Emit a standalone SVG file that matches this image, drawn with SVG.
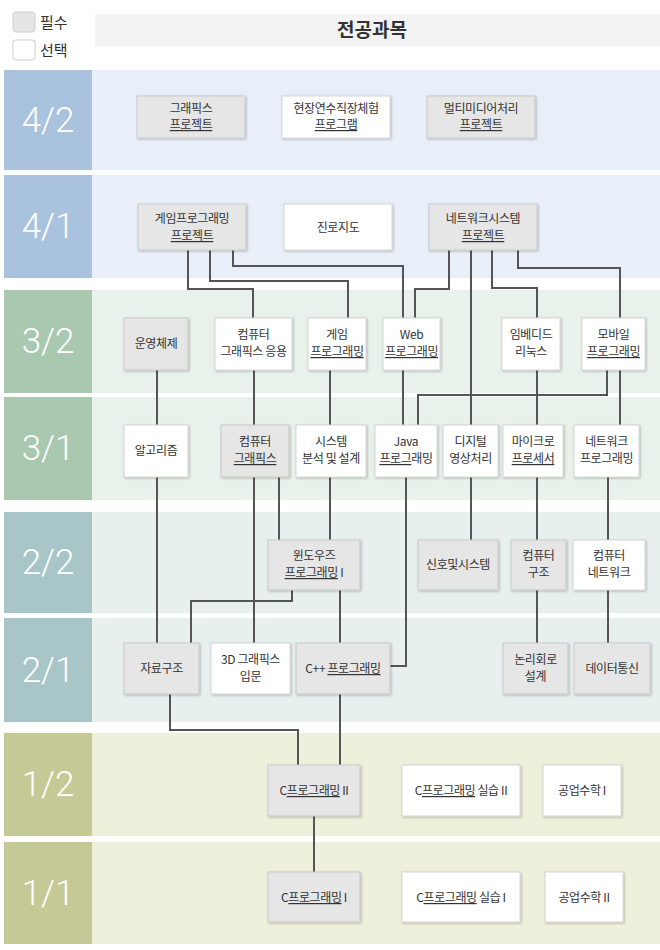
<svg xmlns="http://www.w3.org/2000/svg" width="660" height="950" viewBox="0 0 660 950">
<defs>
<filter id="sh" x="-10%" y="-10%" width="130%" height="140%"><feDropShadow dx="1" dy="1" stdDeviation="1" flood-color="#000" flood-opacity="0.25"/></filter>
</defs>
<style>
text{font-family:"Noto Sans CJK KR","Noto Sans",sans-serif;fill:#333;}
.t{font-size:12px;text-anchor:middle;letter-spacing:-0.4px;}
.u{text-decoration:underline;}
.lab{font-family:Roboto,"Liberation Sans",sans-serif;font-weight:300;font-size:35px;fill:#fff;text-anchor:middle;}
.req{fill:#e6e6e6;stroke:#c9c9c9;stroke-width:1;filter:url(#sh);}
.opt{fill:#fff;stroke:#d6d6d6;stroke-width:1;filter:url(#sh);}
.c{fill:none;stroke:#555;stroke-width:2;}
</style>
<rect width="660" height="950" fill="#fff"/>
<g id="legend">
<rect x="13" y="12" width="22" height="20" rx="3" fill="#e4e4e4" stroke="#cfcfcf"/>
<text x="40" y="28" font-size="15">필수</text>
<rect x="13" y="40" width="22" height="20" rx="3" fill="#fff" stroke="#cfcfcf"/>
<text x="40" y="56" font-size="15">선택</text>
</g>
<g id="header">
<rect x="95" y="14" width="565" height="32" fill="#f3f3f3"/>
<text x="372" y="37" font-size="19" font-weight="bold" text-anchor="middle" fill="#222">전공과목</text>
</g>
<g id="rows">
<rect x="92" y="70" width="568" height="100" fill="#e9eff8"/><rect x="4" y="70" width="88" height="100" fill="#a9c2de"/><text class="lab" x="48" y="132">4/2</text>
<rect x="92" y="175" width="568" height="103" fill="#e9eff8"/><rect x="4" y="175" width="88" height="103" fill="#a9c2de"/><text class="lab" x="48" y="238">4/1</text>
<rect x="92" y="290" width="568" height="103" fill="#e8f1ea"/><rect x="4" y="290" width="88" height="103" fill="#a8c8af"/><text class="lab" x="48" y="353">3/2</text>
<rect x="92" y="397" width="568" height="103" fill="#e8f1ea"/><rect x="4" y="397" width="88" height="103" fill="#a8c8af"/><text class="lab" x="48" y="460">3/1</text>
<rect x="92" y="512" width="568" height="101" fill="#e7f0ef"/><rect x="4" y="512" width="88" height="101" fill="#a8c6c7"/><text class="lab" x="48" y="574">2/2</text>
<rect x="92" y="618" width="568" height="104" fill="#e7f0ef"/><rect x="4" y="618" width="88" height="104" fill="#a8c6c7"/><text class="lab" x="48" y="682">2/1</text>
<rect x="92" y="733" width="568" height="103" fill="#eef0dc"/><rect x="4" y="733" width="88" height="103" fill="#c5c995"/><text class="lab" x="48" y="796">1/2</text>
<rect x="92" y="842" width="568" height="102" fill="#eef0dc"/><rect x="4" y="842" width="88" height="102" fill="#c5c995"/><text class="lab" x="48" y="905">1/1</text>
</g>
<g id="connectors">
<path class="c" d="M188 250V289H253V318"/>
<path class="c" d="M210 250V281H348V318"/>
<path class="c" d="M233 250V266H403V318"/>
<path class="c" d="M449 250V289H415V318"/>
<path class="c" d="M471 250V425"/>
<path class="c" d="M492 250V288H537V318"/>
<path class="c" d="M518 250V268H620V318"/>
<path class="c" d="M157 370V425M157 477V643"/>
<path class="c" d="M254 370V425M254 477V643"/>
<path class="c" d="M279 477V540"/>
<path class="c" d="M330 370V425M330 477V540"/>
<path class="c" d="M403 370V425"/>
<path class="c" d="M607 370V395H418V425"/>
<path class="c" d="M620 370V425"/>
<path class="c" d="M537 370V425M537 477V540M537 590V643"/>
<path class="c" d="M471 477V540"/>
<path class="c" d="M608 477V540M608 590V643"/>
<path class="c" d="M406 477V666H390"/>
<path class="c" d="M292 590V601H191V643"/>
<path class="c" d="M340 590V643"/>
<path class="c" d="M170 694V730H298V765"/>
<path class="c" d="M340 694V765"/>
<path class="c" d="M314 816V872"/>
</g>
<g id="n-graphics-project"><rect class="req" x="137" y="96" width="108" height="42"/><text class="t" x="191" y="113">그래픽스</text><text class="t" x="191" y="129"><tspan class="u">프로젝트</tspan></text></g>
<g id="n-internship"><rect class="opt" x="282" y="96" width="108" height="42"/><text class="t" x="336" y="113">현장연수직장체험</text><text class="t" x="336" y="129"><tspan class="u">프로그램</tspan></text></g>
<g id="n-multimedia-project"><rect class="req" x="427" y="96" width="108" height="42"/><text class="t" x="481" y="113">멀티미디어처리</text><text class="t" x="481" y="129"><tspan class="u">프로젝트</tspan></text></g>
<g id="n-game-project"><rect class="req" x="138" y="204" width="108" height="46"/><text class="t" x="192" y="223">게임프로그래밍</text><text class="t" x="192" y="240"><tspan class="u">프로젝트</tspan></text></g>
<g id="n-career"><rect class="opt" x="284" y="204" width="108" height="46"/><text class="t" x="338" y="232">진로지도</text></g>
<g id="n-network-project"><rect class="req" x="429" y="204" width="108" height="46"/><text class="t" x="483" y="223">네트워크시스템</text><text class="t" x="483" y="240"><tspan class="u">프로젝트</tspan></text></g>
<g id="n-os"><rect class="req" x="124" y="318" width="64" height="52"/><text class="t" x="156" y="348">운영체제</text></g>
<g id="n-cg-app"><rect class="opt" x="215" y="318" width="77" height="52"/><text class="t" x="253.5" y="339">컴퓨터</text><text class="t" x="253.5" y="356">그래픽스 응용</text></g>
<g id="n-game-prog"><rect class="opt" x="308" y="318" width="58" height="52"/><text class="t" x="337" y="339">게임</text><text class="t" x="337" y="356"><tspan class="u">프로그래밍</tspan></text></g>
<g id="n-web"><rect class="opt" x="383" y="318" width="57" height="52"/><text class="t" x="411.5" y="339">Web</text><text class="t" x="411.5" y="356"><tspan class="u">프로그래밍</tspan></text></g>
<g id="n-embedded"><rect class="opt" x="502" y="318" width="58" height="52"/><text class="t" x="531" y="339">임베디드</text><text class="t" x="531" y="356">리눅스</text></g>
<g id="n-mobile"><rect class="opt" x="582" y="318" width="63" height="52"/><text class="t" x="613.5" y="339">모바일</text><text class="t" x="613.5" y="356"><tspan class="u">프로그래밍</tspan></text></g>
<g id="n-algorithm"><rect class="opt" x="124" y="425" width="64" height="52"/><text class="t" x="156" y="455">알고리즘</text></g>
<g id="n-cg"><rect class="req" x="221" y="425" width="68" height="52"/><text class="t" x="255" y="446">컴퓨터</text><text class="t" x="255" y="463"><tspan class="u">그래픽스</tspan></text></g>
<g id="n-sad"><rect class="opt" x="296" y="425" width="70" height="52"/><text class="t" x="331" y="446">시스템</text><text class="t" x="331" y="463">분석 및 설계</text></g>
<g id="n-java"><rect class="opt" x="375" y="425" width="62" height="52"/><text class="t" x="406" y="446">Java</text><text class="t" x="406" y="463"><tspan class="u">프로그</tspan>래밍</text></g>
<g id="n-dip"><rect class="opt" x="443" y="425" width="55" height="52"/><text class="t" x="470.5" y="446">디지털</text><text class="t" x="470.5" y="463">영상처리</text></g>
<g id="n-micro"><rect class="opt" x="503" y="425" width="60" height="52"/><text class="t" x="533" y="446">마이크로</text><text class="t" x="533" y="463"><tspan class="u">프로세서</tspan></text></g>
<g id="n-net-prog"><rect class="opt" x="574" y="425" width="65" height="52"/><text class="t" x="606.5" y="446">네트워크</text><text class="t" x="606.5" y="463">프로그래밍</text></g>
<g id="n-windows"><rect class="req" x="268" y="540" width="92" height="50"/><text class="t" x="314" y="560">윈도우즈</text><text class="t" x="314" y="577"><tspan class="u">프로그래밍</tspan> I</text></g>
<g id="n-signal"><rect class="req" x="418" y="540" width="80" height="50"/><text class="t" x="458" y="569">신호및시스템</text></g>
<g id="n-arch"><rect class="req" x="511" y="540" width="55" height="50"/><text class="t" x="538.5" y="560">컴퓨터</text><text class="t" x="538.5" y="577">구조</text></g>
<g id="n-network"><rect class="opt" x="573" y="540" width="72" height="50"/><text class="t" x="609" y="560">컴퓨터</text><text class="t" x="609" y="577">네트워크</text></g>
<g id="n-ds"><rect class="req" x="124" y="643" width="75" height="51"/><text class="t" x="161.5" y="673">자료구조</text></g>
<g id="n-3d"><rect class="opt" x="211" y="643" width="79" height="51"/><text class="t" x="250.5" y="664">3D 그래픽스</text><text class="t" x="250.5" y="681">입문</text></g>
<g id="n-cpp"><rect class="req" x="296" y="643" width="94" height="51"/><text class="t" x="343" y="673">C++ <tspan class="u">프로그래밍</tspan></text></g>
<g id="n-logic"><rect class="req" x="503" y="643" width="65" height="51"/><text class="t" x="535.5" y="664">논리회로</text><text class="t" x="535.5" y="681">설계</text></g>
<g id="n-datacomm"><rect class="req" x="574" y="643" width="76" height="51"/><text class="t" x="612" y="673">데이터통신</text></g>
<g id="n-c2"><rect class="req" x="268" y="765" width="92" height="51"/><text class="t" x="314" y="795">C<tspan class="u">프로그래밍</tspan> II</text></g>
<g id="n-c2lab"><rect class="opt" x="402" y="765" width="118" height="51"/><text class="t" x="461" y="795">C<tspan class="u">프로그래밍</tspan> 실습 II</text></g>
<g id="n-math1"><rect class="opt" x="543" y="765" width="78" height="51"/><text class="t" x="582" y="795">공업수학 I</text></g>
<g id="n-c1"><rect class="req" x="268" y="872" width="92" height="50"/><text class="t" x="314" y="902">C<tspan class="u">프로그래밍</tspan> I</text></g>
<g id="n-c1lab"><rect class="opt" x="402" y="872" width="118" height="50"/><text class="t" x="461" y="902">C<tspan class="u">프로그래밍</tspan> 실습 I</text></g>
<g id="n-math2"><rect class="opt" x="545" y="872" width="78" height="50"/><text class="t" x="584" y="902">공업수학 II</text></g>
</svg>
